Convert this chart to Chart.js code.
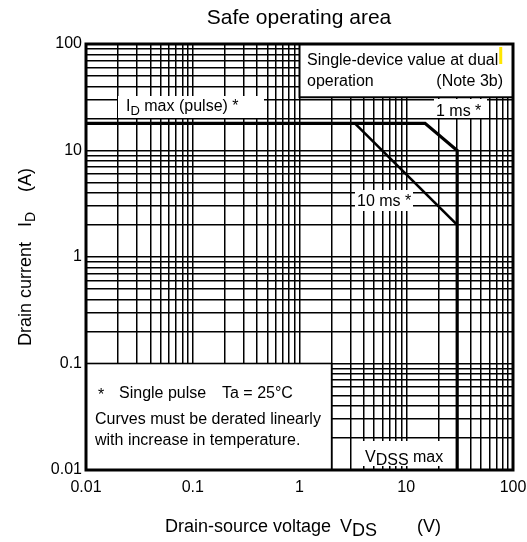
<!DOCTYPE html>
<html>
<head>
<meta charset="utf-8">
<script src="https://cdn.jsdelivr.net/npm/chart.js@4.4.1/dist/chart.umd.min.js"></script>
<style>
  html, body { margin: 0; padding: 0; background: #fff; }
  #wrap { width: 527px; height: 542px; }
</style>
</head>
<body>
<div id="wrap"><canvas id="soaChart" width="527" height="542"></canvas></div>
<script>
// tick labels (decades) for both axes
const xTickLabels = ['0.01', '0.1', '1', '10', '100'];
const yTickLabels = ['0.01', '0.1', '1', '10', '100'];
const gridSteps = [1, 2, 3, 4, 5, 6, 7, 8, 9];

// ID max (pulse) -> 1 ms -> VDSS max
const pulseV = [0.01, 15, 30, 30];
const pulseI = [18, 18, 10, 0.01];
// 10 ms
const ms10V = [3.3, 30];
const ms10I = [18, 2];

const FONT = '"Liberation Sans", Arial, sans-serif';

function gridValues(labels) {
    const decades = labels.map(Number);
    const out = [];
    decades.forEach(function (d, i) {
        if (i === decades.length - 1) { out.push(d); return; }
        gridSteps.forEach(function (s) { out.push(Number((s * d).toPrecision(6))); });
    });
    return out;
}

function labelFor(v, labels) {
    const hit = labels.find(function (l) { return Math.abs(Math.log10(Number(l)) - Math.log10(v)) < 1e-6; });
    return hit === undefined ? '' : hit;
}

// draw text pieces: [text, size, dy, x?]
function richText(ctx, parts, x, y, align) {
    let w = 0;
    parts.forEach(function (p) { ctx.font = p[1] + 'px ' + FONT; w += ctx.measureText(p[0]).width; });
    let cx = align === 'center' ? x - w / 2 : (align === 'right' ? x - w : x);
    parts.forEach(function (p) {
        ctx.font = p[1] + 'px ' + FONT;
        if (p[3] !== undefined) cx = p[3];
        ctx.fillText(p[0], cx, y + (p[2] || 0));
        cx += ctx.measureText(p[0]).width;
    });
}

function whiteBox(ctx, x, y, w, h) {
    ctx.fillStyle = '#fff';
    ctx.fillRect(x, y, w, h);
}

const notes = {
    id: 'notes',
    beforeDatasetsDraw: function (chart) {
        const ctx = chart.ctx;
        const a = chart.chartArea;
        const xs = chart.scales.x, ys = chart.scales.y;
        ctx.save();
        ctx.textAlign = 'left';
        ctx.textBaseline = 'alphabetic';

        // note box top-right
        const bx0 = xs.getPixelForValue(1), by1 = ys.getPixelForValue(31.6);
        whiteBox(ctx, bx0, a.top, a.right - bx0, by1 - a.top);
        ctx.strokeStyle = '#000';
        ctx.lineWidth = 2;
        ctx.strokeRect(bx0, a.top, a.right - bx0, by1 - a.top);

        // note box bottom-left
        const cx1 = xs.getPixelForValue(2), cy0 = ys.getPixelForValue(0.1);
        whiteBox(ctx, a.left, cy0, cx1 - a.left, a.bottom - cy0);
        ctx.lineWidth = 1.6;
        ctx.strokeRect(a.left, cy0, cx1 - a.left, a.bottom - cy0);

        // label backgrounds
        whiteBox(ctx, 118, 96, 146, 22);
        whiteBox(ctx, 434, 99, 53, 19);
        whiteBox(ctx, 355, 190, 58, 21);
        whiteBox(ctx, 361, 441, 88, 25);

        ctx.fillStyle = '#000';
        ctx.font = '16px ' + FONT;
        ctx.fillText('Single-device value at dual', 307, 65);
        ctx.fillText('operation', 307, 86);
        ctx.textAlign = 'right';
        ctx.fillText('(Note 3b)', 503, 86);
        ctx.textAlign = 'left';
        ctx.font = '16px ' + FONT;
        const endX = 307 + ctx.measureText('Single-device value at dual').width;
        ctx.fillStyle = '#ffe600';
        ctx.fillRect(endX + 1, 47, 3, 17);
        ctx.fillStyle = '#000';

        richText(ctx, [['I', 16, 0], ['D', 13, 4], [' max (pulse) *', 16, 0]], 126, 111);
        ctx.font = '16px ' + FONT;
        ctx.fillText('1 ms *', 436, 116);
        ctx.fillText('10 ms *', 357, 206);
        richText(ctx, [['V', 16, 0], ['DSS', 16, 3], [' max', 16, 0]], 365, 462);

        ctx.fillText('*', 98, 400);
        ctx.fillText('Single pulse', 119, 398);
        ctx.fillText('Ta = 25\u00B0C', 222, 398);
        ctx.fillText('Curves must be derated linearly', 95, 424);
        ctx.fillText('with increase in temperature.', 95, 445);
        ctx.restore();
    },
    afterDraw: function (chart) {
        const ctx = chart.ctx;
        const a = chart.chartArea;
        ctx.save();
        ctx.strokeStyle = '#000';
        ctx.lineWidth = 3;
        ctx.strokeRect(a.left, a.top, a.right - a.left, a.bottom - a.top);

        ctx.fillStyle = '#000';
        ctx.textBaseline = 'alphabetic';
        ctx.textAlign = 'center';
        ctx.font = '21px ' + FONT;
        ctx.fillText('Safe operating area', 299, 24);

        ctx.textAlign = 'left';
        richText(ctx, [['Drain-source voltage', 18, 0, 165], ['V', 18, 0, 340], ['DS', 18, 4], ['(V)', 18, 0, 417]], 165, 532);

        ctx.translate(31, 257);
        ctx.rotate(-Math.PI / 2);
        richText(ctx, [['Drain current   ', 18, 0], ['I', 18, 0], ['D', 14, 4], ['    (A)', 18, 0]], 0, 0, 'center');
        ctx.restore();
    }
};

const xGrid = gridValues(xTickLabels);
const yGrid = gridValues(yTickLabels);

function axis(grid, labels, fit, pad) {
    return {
        type: 'logarithmic',
        min: Number(labels[0]),
        max: Number(labels[labels.length - 1]),
        afterBuildTicks: function (s) { s.ticks = grid.map(function (v) { return { value: v }; }); },
        afterFit: fit,
        grid: { color: '#000', lineWidth: 1.5, drawTicks: false },
        border: { display: false },
        ticks: {
            autoSkip: false,
            maxRotation: 0,
            color: '#000',
            padding: pad,
            font: { family: FONT, size: 16 },
            callback: function (v) { return labelFor(v, labels); }
        }
    };
}

new Chart(document.getElementById('soaChart'), {
    type: 'scatter',
    data: {
        datasets: [
            {
                label: '1 ms',
                data: pulseV.map(function (v, i) { return { x: v, y: pulseI[i] }; }),
                showLine: true, borderColor: '#000', borderWidth: 3.2, pointRadius: 0,
                borderJoinStyle: 'miter', tension: 0
            },
            {
                label: '10 ms',
                data: ms10V.map(function (v, i) { return { x: v, y: ms10I[i] }; }),
                showLine: true, borderColor: '#000', borderWidth: 2.6, pointRadius: 0, tension: 0
            }
        ]
    },
    options: {
        responsive: false,
        animation: false,
        devicePixelRatio: 1,
        events: [],
        layout: { padding: { top: 44, right: 14, left: 0, bottom: 0 } },
        plugins: { legend: { display: false }, tooltip: { enabled: false } },
        scales: {
            x: axis(xGrid, xTickLabels, function (s) { s.height = 72; s.paddingLeft = 0; s.paddingRight = 0; }, 8),
            y: axis(yGrid, yTickLabels, function (s) { s.width = 86; s.paddingTop = 0; s.paddingBottom = 0; }, 4)
        }
    },
    plugins: [notes]
});
</script>
</body>
</html>
